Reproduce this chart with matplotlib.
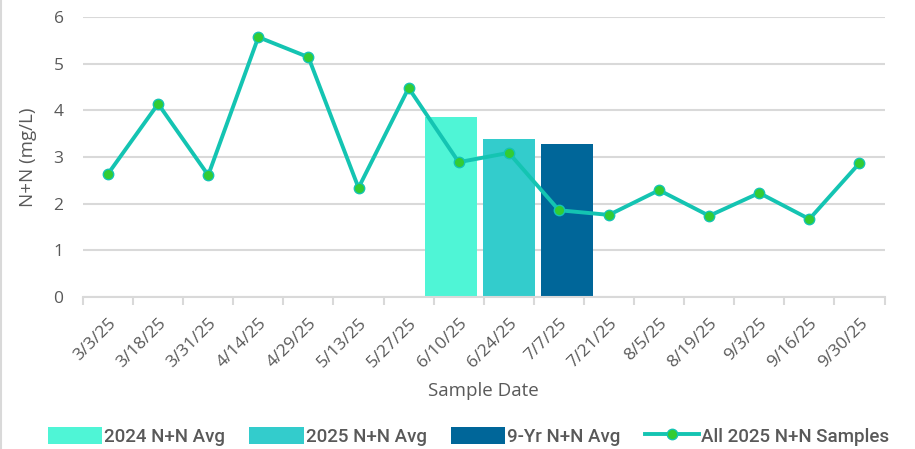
import numpy as np
import matplotlib.pyplot as plt
from matplotlib.lines import Line2D

# sample dates and N+N values (mg/L)
dates = ['3/3/25', '3/18/25', '3/31/25', '4/14/25', '4/29/25', '5/13/25', '5/27/25',
         '6/10/25', '6/24/25', '7/7/25', '7/21/25', '8/5/25', '8/19/25', '9/3/25',
         '9/16/25', '9/30/25']
samples_2025 = [2.64, 4.14, 2.61, 5.57, 5.14, 2.34, 4.48, 2.89, 3.09, 1.86,
                1.76, 2.29, 1.74, 2.23, 1.67, 2.87]

avg_labels = ['2024 N+N Avg', '2025 N+N Avg', '9-Yr N+N Avg']
avg_values = [3.85, 3.38, 3.28]
avg_colors = ['#4FF5D6', '#33CCCC', '#006699']

gray = '#595959'
grid = '#D9D9D9'

fig = plt.figure(figsize=(9.15, 4.49), dpi=100)
ax = fig.add_axes([0.0907, 0.3385, 0.876, 0.6235])

x = np.arange(len(dates))
# the three averages sit as a cluster around 6/24/25
center = dates.index('6/24/25')
for i, (lab, val, col) in enumerate(zip(avg_labels, avg_values, avg_colors)):
    ax.bar(center + (i - 1) * 1.16, val, width=1.04, color=col, label=lab, zorder=2)

ax.plot(x, samples_2025, color='#14C4B2', lw=2.8, marker='o', ms=7.5,
        mfc='#33CC33', mec='#14C4B2', mew=1.0, label='All 2025 N+N Samples', zorder=3)

ax.set_xlim(-0.5, len(dates) - 0.5)
ax.set_ylim(0, 6)
ax.set_yticks(range(7))
ax.yaxis.grid(True, color=grid, lw=1.5, zorder=0)
ax.set_axisbelow(True)

ax.set_xticks(x)
ax.set_xticklabels(dates, rotation=45, ha='right', rotation_mode='anchor',
                   fontsize=12.5, color=gray, family='Open Sans')
ax.set_xticks(np.arange(-0.5, len(dates)), minor=True)
ax.tick_params(axis='x', which='major', length=0, pad=13)
ax.tick_params(axis='x', which='minor', length=6, color=grid, width=1.5)
ax.tick_params(axis='y', length=0, labelsize=12.5, labelcolor=gray, pad=14)
for lab in ax.get_yticklabels():
    lab.set_family('Open Sans')

for s in ['top', 'right', 'left']:
    ax.spines[s].set_visible(False)
ax.spines['bottom'].set_color(grid)
ax.spines['bottom'].set_linewidth(1.5)

ax.set_ylabel('N+N (mg/L)', fontsize=13.5, color=gray, family='Open Sans', labelpad=12)
ax.set_xlabel('Sample Date', fontsize=13.5, color=gray, family='Open Sans', labelpad=8)

handles, labels = ax.get_legend_handles_labels()
# bars first, line last, as in the original legend
handles = handles[1:] + handles[:1]
labels = labels[1:] + labels[:1]
leg = fig.legend(handles, labels, loc='lower center', bbox_to_anchor=(0.512, -0.03),
                 ncol=4, frameon=False, handlelength=2.9, handleheight=1.0,
                 handletextpad=0.1, columnspacing=1.3,
                 prop={'family': 'Roboto', 'size': 13.5, 'weight': 'medium'})
for t in leg.get_texts():
    t.set_color(gray)

# thin chart border on the left edge
fig.add_artist(Line2D([0.001, 0.001], [0, 1], color=grid, lw=1.5))

fig.savefig('out.png', dpi=100)
